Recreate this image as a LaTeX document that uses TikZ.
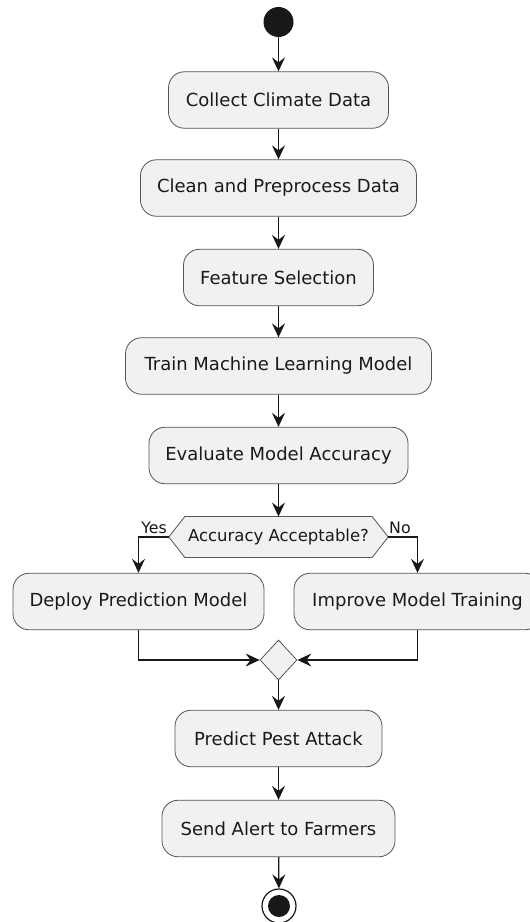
\documentclass[tikz,border=0pt]{standalone}
\usepackage{fontspec}
\setmainfont{DejaVu Sans}
\usetikzlibrary{arrows.meta,calc,shapes.geometric}
\definecolor{boxfill}{HTML}{F1F1F1}
\definecolor{ink}{HTML}{181818}
\definecolor{edge}{HTML}{555555}
\definecolor{txt}{HTML}{1A1A1A}
\begin{document}
\begin{tikzpicture}[x=1pt,y=-1pt,
  act/.style={draw=edge,line width=0.8pt,fill=boxfill,rounded corners=16pt,minimum height=56.5pt,inner sep=0pt,font=\fontsize{18}{21}\selectfont,text=txt},
  arr/.style={draw=ink,line width=1.2pt,-{Stealth[length=14pt,width=13pt,inset=5pt]}},
  lbl/.style={inner sep=0pt,font=\fontsize{15.8}{18}\selectfont,text=txt},
]
\useasboundingbox (0,0) rectangle (530,922);
\clip (0,0) rectangle (530,922);
\fill[white] (0,0) rectangle (530,922);

\node[circle,fill=ink,minimum size=30pt,inner sep=0pt] (start) at (278.5,22) {};
\node[act,minimum width=220pt] (collect) at (278.5,100) {Collect Climate Data};
\node[act,minimum width=276pt] (clean) at (278.5,188) {Clean and Preprocess Data};
\node[act,minimum width=190pt] (feat) at (278.5,277.5) {Feature Selection};
\node[act,minimum width=306pt] (train) at (278.5,366) {Train Machine Learning Model};
\node[act,minimum width=259pt] (eval) at (278.5,455.5) {Evaluate Model Accuracy};

\node[inner sep=0pt,minimum width=219pt,minimum height=40.5pt] (dec) at (278.5,537) {};
\draw[draw=edge,line width=0.8pt,fill=boxfill] (dec.west) -- ($(dec.north west)+(16,0)$) -- ($(dec.north east)+(-16,0)$) -- (dec.east) -- ($(dec.south east)+(-16,0)$) -- ($(dec.south west)+(16,0)$) -- cycle;
\node[inner sep=0pt,font=\fontsize{16.5}{19}\selectfont,text=txt] (dectext) at (dec.center) {Accuracy Acceptable?};
\node[lbl,anchor=base east] (yes) at (167,533) {Yes};
\node[lbl,anchor=base west] (no) at (389,533) {No};

\node[act,minimum width=251pt] (deploy) at (138.5,601.5) {Deploy Prediction Model};
\node[act,minimum width=247pt] (improve) at (417.5,601.5) {Improve Model Training};

\node[diamond,draw=edge,line width=0.8pt,fill=boxfill,inner sep=0pt,minimum width=37pt,minimum height=40pt] (merge) at (278.5,660) {};

\node[act,minimum width=207pt] (predict) at (278.5,738.5) {Predict Pest Attack};
\node[act,minimum width=233pt] (send) at (278.5,828.5) {Send Alert to Farmers};

\node[circle,draw=ink,line width=1.2pt,fill=white,minimum size=34pt,inner sep=0pt] (end) at (279,906) {};
\node[circle,fill=ink,minimum size=22pt,inner sep=0pt] (endin) at (end.center) {};

\draw[arr] (start) -- (collect);
\draw[arr] (collect) -- (clean);
\draw[arr] (clean) -- (feat);
\draw[arr] (feat) -- (train);
\draw[arr] (train) -- (eval);
\draw[arr] (eval) -- (dec.north);
\draw[arr] (dec.west) -| (deploy.north);
\draw[arr] (dec.east) -| (improve.north);
\draw[arr] (deploy.south) |- (merge.west);
\draw[arr] (improve.south) |- (merge.east);
\draw[arr] (merge.south) -- (predict.north);
\draw[arr] (predict) -- (send);
\draw[arr] (send) -- (end);
\end{tikzpicture}
\end{document}
